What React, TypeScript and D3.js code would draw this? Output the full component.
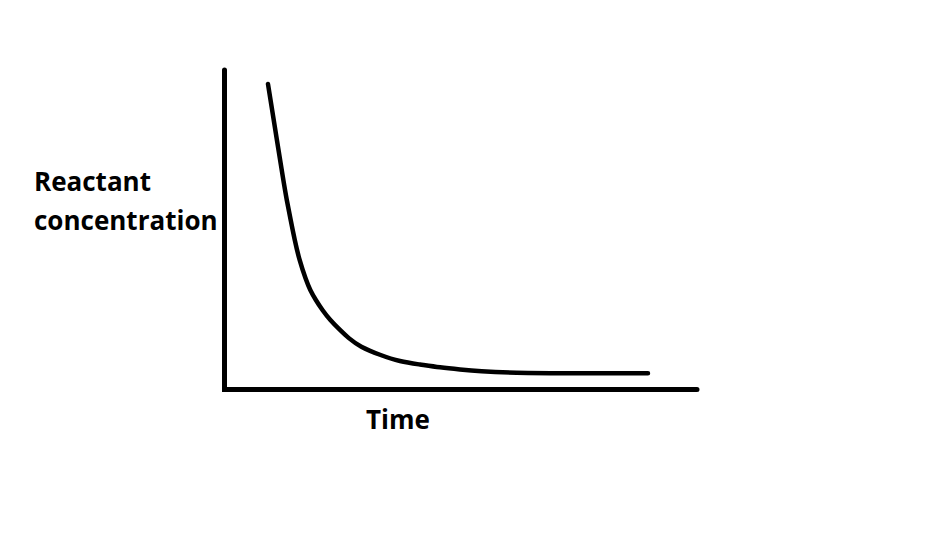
import React from "react";
import * as d3 from "d3";

const timeValues = [9.26, 10.74, 12.48, 13.2, 14.04, 14.88, 15.85, 17.26, 18.11, 19.31, 20.69, 22.32, 24.42, 26.17, 28.63, 32.84, 37.05, 41.26, 45.47, 49.68, 53.89, 60.21, 74.95, 89.26];
const concValues = [95.32, 81.59, 65.37, 59.13, 52.89, 46.65, 40.41, 34.17, 31.05, 27.93, 24.8, 21.68, 18.56, 16.07, 13.35, 10.76, 8.67, 7.8, 6.86, 6.24, 5.68, 5.15, 5.05, 5.05];
const yLabelLines = ["Reactant", "concentration"];
const xLabel = "Time";

const W = 951;
const H = 551;

export default function App() {
  const x = d3.scaleLinear().domain([0, 100]).range([224, 699]);
  const y = d3.scaleLinear().domain([0, 100]).range([389.5, 69]);
  const pts: [number, number][] = timeValues.map((t, i) => [t, concValues[i]]);
  const line = d3
    .line<[number, number]>()
    .x((d) => x(d[0]))
    .y((d) => y(d[1]))
    .curve(d3.curveBasis);
  const axisPath = d3.path();
  axisPath.moveTo(x(0) + 0.5, y(100) + 1);
  axisPath.lineTo(x(0) + 0.5, y(0));
  axisPath.lineTo(x(100) - 2, y(0));
  const font = "'Open Sans', sans-serif";
  return (
    <svg
      width={W}
      height={H}
      style={{ position: "absolute", left: 0, top: 0, background: "#fff" }}
    >
      <rect width={W} height={H} fill="#fff" />
      <path d={axisPath.toString()} fill="none" stroke="#000" strokeWidth={5} strokeLinecap="round" strokeLinejoin="miter" />
      <path d={line(pts) || ""} fill="none" stroke="#000" strokeWidth={4.5} strokeLinecap="round" strokeLinejoin="round" />
      {yLabelLines.map((s, i) => (
        <text key={s} x={34} y={191 + i * 38.5} fontFamily={font} fontWeight="bold" fontSize={26} fill="#000">
          {s}
        </text>
      ))}
      <text x={366} y={429} fontFamily={font} fontWeight="bold" fontSize={26} fill="#000">
        {xLabel}
      </text>
    </svg>
  );
}
